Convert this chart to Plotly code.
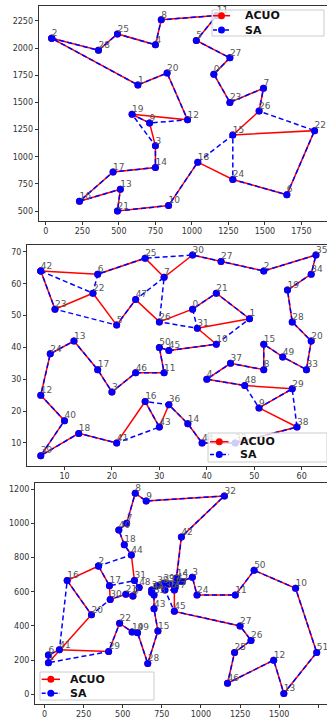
import plotly.graph_objects as go

# ---------------- Panel 1 (29 cities) ----------------
p1_x = [1150, 630, 40, 750, 750, 1030, 1650, 1490, 790, 710, 840, 1170, 970, 510, 750,
        1280, 230, 460, 1040, 590, 830, 490, 1840, 1260, 1280, 490, 1460, 1260, 360]
p1_y = [1760, 1660, 2090, 1100, 2030, 2070, 650, 1630, 2260, 1310, 550, 2300, 1340, 700, 900,
        1200, 590, 860, 950, 1390, 1770, 500, 1240, 1500, 790, 2130, 1420, 1910, 1980]
p1_acuo = [2, 28, 25, 4, 8, 11, 5, 27, 0, 23, 7, 26, 15, 22, 6, 24, 18, 10, 21, 13, 16, 17,
           14, 3, 9, 19, 12, 20, 1, 2]
p1_sa = [2, 28, 25, 4, 8, 11, 5, 27, 0, 23, 7, 26, 22, 6, 24, 15, 18, 10, 21, 13, 16, 17,
         14, 3, 19, 9, 12, 20, 1, 2]
p1_xticks = [0, 250, 500, 750, 1000, 1250, 1500, 1750]
p1_yticks = [500, 750, 1000, 1250, 1500, 1750, 2000, 2250]

# ---------------- Panel 2 (51 cities) ----------------
p2_x = [37, 49, 52, 20, 40, 21, 17, 31, 52, 51, 42, 31, 5, 12, 36, 52, 27, 17, 13, 57,
        62, 42, 16, 8, 7, 27, 30, 43, 58, 58, 37, 38, 46, 61, 62, 63, 32, 45, 59, 5,
        10, 21, 5, 30, 39, 32, 25, 25, 48, 56, 30]
p2_y = [52, 49, 64, 26, 30, 47, 63, 62, 33, 21, 41, 32, 25, 42, 16, 41, 23, 33, 13, 58,
        42, 57, 57, 52, 38, 68, 48, 67, 48, 27, 69, 46, 10, 33, 63, 69, 22, 35, 15, 6,
        17, 10, 64, 15, 10, 39, 32, 55, 28, 37, 40]
p2_acuo = [42, 6, 25, 7, 30, 27, 2, 35, 34, 19, 28, 20, 33, 49, 15, 8, 37, 4, 48, 29, 9, 38,
           32, 44, 14, 36, 43, 16, 41, 18, 39, 40, 12, 24, 13, 17, 3, 46, 11, 50, 45, 10,
           31, 1, 21, 0, 26, 47, 5, 22, 23, 42]
p2_sa = [42, 22, 6, 25, 30, 27, 2, 35, 34, 19, 28, 20, 33, 49, 15, 8, 37, 4, 48, 9, 29, 38,
         32, 44, 14, 36, 16, 43, 41, 18, 39, 40, 12, 24, 13, 17, 3, 46, 11, 50, 45, 10,
         1, 21, 0, 31, 26, 7, 47, 5, 23, 42]
p2_xticks = [10, 20, 30, 40, 50, 60]
p2_yticks = [10, 20, 30, 40, 50, 60, 70]

# ---------------- Panel 3 (52 cities) ----------------
p3_x = [565, 25, 345, 945, 845, 880, 25, 525, 580, 650, 1605, 1220, 1465, 1530, 845, 725,
        145, 415, 510, 560, 300, 520, 480, 835, 975, 1215, 1320, 1250, 660, 410, 420, 575,
        1150, 700, 685, 685, 770, 795, 720, 760, 475, 95, 875, 700, 555, 830, 1170, 830,
        605, 595, 1340, 1740]
p3_y = [575, 185, 750, 685, 655, 660, 230, 1000, 1175, 1130, 620, 580, 200, 5, 680, 370,
        665, 635, 875, 365, 465, 585, 415, 625, 580, 245, 315, 400, 180, 250, 555, 665,
        1160, 580, 595, 610, 610, 645, 635, 650, 960, 260, 920, 500, 815, 485, 65, 610,
        625, 360, 725, 245]
p3_acuo = [0, 48, 31, 44, 18, 40, 7, 8, 9, 32, 42, 23, 4, 14, 5, 3, 24, 11, 50, 10, 51, 13,
           12, 46, 25, 26, 27, 45, 47, 37, 36, 39, 38, 35, 34, 33, 43, 15, 28, 49, 19, 22,
           29, 41, 6, 1, 20, 16, 2, 17, 30, 21, 0]
p3_sa = [2, 17, 31, 48, 0, 21, 30, 20, 16, 41, 6, 1, 29, 22, 19, 49, 28, 15, 43, 33, 34, 35,
         38, 39, 37, 23, 47, 36, 45, 27, 26, 25, 46, 12, 13, 51, 10, 50, 11, 24, 3, 5, 4,
         14, 42, 32, 9, 8, 7, 40, 18, 44, 2]
p3_xticks = [0, 250, 500, 750, 1000, 1250, 1500, 1750]
p3_yticks = [0, 200, 400, 600, 800, 1000, 1200]

series_names = ["ACUO", "SA"]
RED, BLUE = "#ff0000", "#0000ff"

W, H = 327, 722
fig = go.Figure()

panels = [
    dict(x=p1_x, y=p1_y, acuo=p1_acuo, sa=p1_sa, xt=p1_xticks, yt=p1_yticks,
         xpx=(38.6, 327.0), xr=(-50, 1925), ypx=(5.7, 220.8), yr=(410, 2390),
         leg=dict(box=(212, 324, 10, 36), sx=(213, 230), rows=(15.7, 30.0), tx=243)),
    dict(x=p2_x, y=p2_y, acuo=p2_acuo, sa=p2_sa, xt=p2_xticks, yt=p2_yticks,
         xpx=(27.0, 327.0), xr=(2.1, 65.33), ypx=(245.0, 465.7), yr=(2.85, 72.15),
         leg=dict(box=(208, 327, 433, 462), sx=(210, 228.5), rows=(441.7, 454.5), tx=238)),
    dict(x=p3_x, y=p3_y, acuo=p3_acuo, sa=p3_sa, xt=p3_xticks, yt=p3_yticks,
         xpx=(35.0, 327.0), xr=(-60.75, 1805.8), ypx=(483.3, 703.5), yr=(-53.5, 1233.5),
         leg=dict(box=(40, 154, 672, 700), sx=(41.7, 60), rows=(679.3, 693.3), tx=68)),
]


def px(x):
    return x / W


def py(y):
    return 1 - y / H


layout_axes = {}
shapes = []
annotations = []
for i, p in enumerate(panels, start=1):
    xa = "x" if i == 1 else f"x{i}"
    ya = "y" if i == 1 else f"y{i}"
    ax = [p["x"][k] for k in p["acuo"]]
    ay = [p["y"][k] for k in p["acuo"]]
    sx = [p["x"][k] for k in p["sa"]]
    sy = [p["y"][k] for k in p["sa"]]
    fig.add_trace(go.Scatter(x=ax, y=ay, mode="lines+markers", name=series_names[0],
                             line=dict(color=RED, width=1.5),
                             marker=dict(color=RED, size=7),
                             xaxis=xa, yaxis=ya, showlegend=False))
    fig.add_trace(go.Scatter(x=sx, y=sy, mode="lines+markers", name=series_names[1],
                             line=dict(color=BLUE, width=1.5, dash="5px,3px"),
                             marker=dict(color=BLUE, size=7),
                             xaxis=xa, yaxis=ya, showlegend=False))
    fig.add_trace(go.Scatter(x=p["x"], y=p["y"], mode="text",
                             text=[str(k) for k in range(len(p["x"]))],
                             textposition="top right",
                             textfont=dict(size=9, color="#555555", family="DejaVu Sans"),
                             showlegend=False, hoverinfo="skip",
                             xaxis=xa, yaxis=ya))
    xkey = "xaxis" if i == 1 else f"xaxis{i}"
    ykey = "yaxis" if i == 1 else f"yaxis{i}"
    common = dict(showgrid=False, zeroline=False, showline=True, linecolor="#333333",
                  linewidth=1, ticks="outside", ticklen=3, tickcolor="#333333",
                  tickfont=dict(size=8, color="#333333", family="DejaVu Sans"))
    layout_axes[xkey] = dict(common, domain=[p["xpx"][0] / W, p["xpx"][1] / W],
                             range=list(p["xr"]), tickvals=p["xt"], anchor=ya, mirror=True)
    layout_axes[ykey] = dict(common, domain=[1 - p["ypx"][1] / H, 1 - p["ypx"][0] / H],
                             range=list(p["yr"]), tickvals=p["yt"], anchor=xa)

    # legend box (drawn in page pixels)
    lg = p["leg"]
    x0, x1, y0, y1 = lg["box"]
    shapes.append(dict(type="rect", xref="paper", yref="paper",
                       x0=px(x0), x1=px(x1), y0=py(y1), y1=py(y0),
                       fillcolor="rgba(255,255,255,0.8)",
                       line=dict(color="#cccccc", width=1), layer="above"))
    for name, col, dash, ry in zip(series_names, (RED, BLUE), ("solid", "4px,2px"), lg["rows"]):
        shapes.append(dict(type="line", xref="paper", yref="paper",
                           x0=px(lg["sx"][0]), x1=px(lg["sx"][1]), y0=py(ry), y1=py(ry),
                           line=dict(color=col, width=1.5, dash=dash), layer="above"))
        mx = (lg["sx"][0] + lg["sx"][1]) / 2
        shapes.append(dict(type="circle", xref="paper", yref="paper",
                           x0=px(mx - 3.5), x1=px(mx + 3.5), y0=py(ry + 3.5), y1=py(ry - 3.5),
                           fillcolor=col, line=dict(color=col, width=0), layer="above"))
        annotations.append(dict(xref="paper", yref="paper", x=px(lg["tx"]), y=py(ry),
                                xanchor="left", yanchor="middle", showarrow=False,
                                text="<b>" + name + "</b>",
                                font=dict(size=11, color="#111111", family="DejaVu Sans")))

fig.update_layout(
    width=W, height=H, autosize=False,
    margin=dict(l=0, r=0, t=0, b=0),
    paper_bgcolor="white", plot_bgcolor="white",
    showlegend=False, hovermode=False,
    shapes=shapes, annotations=annotations,
    **layout_axes,
)

fig.write_html("out.html",
               config={"displayModeBar": False, "staticPlot": True},
               post_script="document.body.style.margin='0px';document.body.style.overflow='hidden';")
